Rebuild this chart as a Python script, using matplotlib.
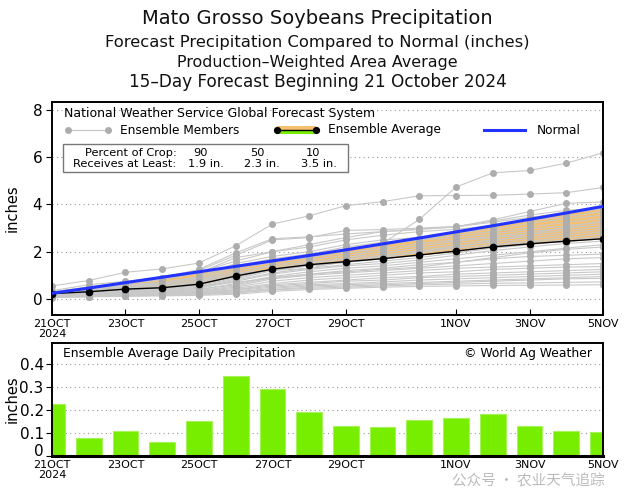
import numpy as np
import matplotlib
matplotlib.use("Agg")
import matplotlib.pyplot as plt
from matplotlib.lines import Line2D
from matplotlib.patches import Rectangle
from matplotlib.transforms import ScaledTranslation

# ---------------- data ----------------
days = list(range(16))
tick_days = [0, 2, 4, 6, 8, 11, 13, 15]
tick_labels = ["21OCT\n2024", "23OCT", "25OCT", "27OCT", "29OCT", "1NOV", "3NOV", "5NOV"]

daily_avg = [0.225, 0.08, 0.11, 0.06, 0.15, 0.345, 0.29, 0.19, 0.13, 0.125,
             0.155, 0.165, 0.18, 0.13, 0.11, 0.105]
ens_avg = np.cumsum(daily_avg)

normal = [0.24, 0.46, 0.69, 0.92, 1.15, 1.38, 1.61, 1.84, 2.08, 2.33,
          2.58, 2.84, 3.10, 3.37, 3.64, 3.92]

members = [
    [0.55, 0.78, 1.13, 1.27, 1.52, 2.25, 3.17, 3.52, 3.95, 4.12, 4.37, 4.38, 4.39, 4.44, 4.50, 4.72],
    [0.30, 0.45, 0.60, 0.70, 0.85, 1.10, 1.20, 1.30, 1.60, 2.35, 3.37, 4.74, 5.34, 5.44, 5.75, 6.19],
    [0.35, 0.60, 0.75, 0.90, 1.25, 1.95, 2.55, 2.63, 2.75, 2.85, 2.95, 3.05, 3.35, 3.70, 4.05, 4.11],
    [0.30, 0.50, 0.70, 0.85, 1.20, 1.85, 2.50, 2.60, 2.90, 2.94, 3.00, 3.07, 3.30, 3.55, 3.75, 3.85],
    [0.30, 0.45, 0.65, 0.80, 1.10, 1.75, 2.00, 2.20, 2.50, 2.70, 2.85, 2.95, 3.10, 3.30, 3.50, 3.70],
    [0.25, 0.40, 0.55, 0.70, 0.95, 1.50, 1.80, 2.00, 2.30, 2.50, 2.60, 2.80, 2.95, 3.20, 3.40, 3.55],
    [0.25, 0.40, 0.55, 0.65, 0.90, 1.40, 1.70, 1.90, 2.20, 2.40, 2.55, 2.70, 2.85, 3.05, 3.25, 3.40],
    [0.20, 0.35, 0.50, 0.60, 0.80, 1.35, 1.60, 1.80, 2.05, 2.30, 2.50, 2.60, 2.75, 2.95, 3.10, 3.25],
    [0.20, 0.30, 0.45, 0.55, 0.75, 1.25, 1.55, 1.75, 1.95, 2.15, 2.35, 2.50, 2.65, 2.85, 3.00, 3.15],
    [0.20, 0.30, 0.40, 0.50, 0.70, 1.15, 1.45, 1.65, 1.85, 2.05, 2.25, 2.45, 2.60, 2.75, 2.90, 3.05],
    [0.20, 0.30, 0.40, 0.50, 0.65, 1.05, 1.40, 1.55, 1.75, 1.95, 2.15, 2.35, 2.50, 2.65, 2.80, 2.95],
    [0.18, 0.25, 0.35, 0.45, 0.60, 0.95, 1.30, 1.50, 1.70, 1.85, 2.05, 2.25, 2.40, 2.55, 2.70, 2.85],
    [0.18, 0.25, 0.35, 0.40, 0.55, 0.90, 1.25, 1.45, 1.60, 1.80, 1.95, 2.15, 2.30, 2.45, 2.60, 2.75],
    [0.15, 0.22, 0.30, 0.38, 0.50, 0.85, 1.20, 1.40, 1.55, 1.70, 1.85, 2.05, 2.25, 2.40, 2.50, 2.65],
    [0.15, 0.20, 0.30, 0.35, 0.45, 0.80, 1.10, 1.30, 1.45, 1.60, 1.75, 1.95, 2.15, 2.30, 2.45, 2.60],
    [0.15, 0.20, 0.28, 0.35, 0.45, 0.75, 1.05, 1.25, 1.40, 1.50, 1.65, 1.85, 2.05, 2.20, 2.35, 2.45],
    [0.15, 0.20, 0.25, 0.30, 0.40, 0.65, 0.95, 1.15, 1.30, 1.40, 1.55, 1.70, 1.85, 2.00, 2.15, 2.30],
    [0.12, 0.18, 0.25, 0.30, 0.40, 0.60, 0.90, 1.05, 1.20, 1.30, 1.45, 1.55, 1.70, 1.80, 1.85, 1.90],
    [0.12, 0.18, 0.22, 0.28, 0.35, 0.55, 0.85, 1.00, 1.10, 1.20, 1.30, 1.40, 1.50, 1.60, 1.70, 1.75],
    [0.12, 0.15, 0.20, 0.25, 0.32, 0.50, 0.75, 0.90, 1.00, 1.10, 1.20, 1.30, 1.35, 1.40, 1.45, 1.50],
    [0.10, 0.15, 0.20, 0.25, 0.30, 0.45, 0.65, 0.80, 0.90, 1.00, 1.10, 1.15, 1.25, 1.30, 1.35, 1.37],
    [0.10, 0.14, 0.18, 0.22, 0.28, 0.40, 0.60, 0.70, 0.80, 0.90, 0.95, 1.05, 1.10, 1.15, 1.20, 1.25],
    [0.10, 0.13, 0.17, 0.20, 0.25, 0.38, 0.55, 0.65, 0.75, 0.80, 0.90, 0.95, 1.00, 1.05, 1.10, 1.15],
    [0.10, 0.12, 0.15, 0.18, 0.22, 0.35, 0.50, 0.60, 0.65, 0.72, 0.80, 0.85, 0.90, 0.95, 1.00, 1.05],
    [0.08, 0.12, 0.15, 0.18, 0.22, 0.30, 0.45, 0.55, 0.60, 0.65, 0.70, 0.75, 0.80, 0.85, 0.90, 0.95],
    [0.08, 0.10, 0.14, 0.17, 0.20, 0.28, 0.40, 0.50, 0.55, 0.60, 0.65, 0.70, 0.75, 0.80, 0.85, 0.87],
    [0.08, 0.10, 0.13, 0.15, 0.18, 0.25, 0.38, 0.45, 0.50, 0.55, 0.60, 0.63, 0.66, 0.68, 0.70, 0.72],
    [0.06, 0.09, 0.11, 0.13, 0.15, 0.20, 0.32, 0.40, 0.45, 0.50, 0.53, 0.55, 0.57, 0.58, 0.59, 0.60],
    [0.30, 0.50, 0.70, 0.90, 1.15, 1.60, 2.00, 2.30, 2.60, 2.85, 2.95, 3.05, 3.25, 3.45, 3.65, 3.80],
    [0.25, 0.40, 0.50, 0.60, 0.75, 1.00, 1.25, 1.40, 1.55, 1.75, 2.00, 2.20, 2.45, 2.75, 3.05, 3.30],
    [0.20, 0.30, 0.40, 0.45, 0.55, 0.70, 0.90, 1.05, 1.15, 1.25, 1.35, 1.55, 1.75, 1.95, 2.10, 2.20],
]

crop_pct = ["90", "50", "10"]
crop_amt = ["1.9 in.", "2.3 in.", "3.5 in."]

title_lines = ["Mato Grosso Soybeans Precipitation",
               "Forecast Precipitation Compared to Normal (inches)",
               "Production\u2013Weighted Area Average",
               "15\u2013Day Forecast Beginning 21 October 2024"]

# ---------------- figure ----------------
W, H = 635, 493
fig = plt.figure(figsize=(W / 100, H / 100), dpi=100)
plt.rcParams['font.family'] = ['DejaVu Sans']


def fx(px):
    return px / W


def fy(py):
    return 1 - py / H


L, R = 52, 603
ax = fig.add_axes([fx(L), fy(315), fx(R - L), fy(102) - fy(315)])
ax2 = fig.add_axes([fx(L), fy(456), fx(R - L), fy(343) - fy(456)])

# titles
tsize = [14, 11.8, 11.4, 12.2]
tys = [18, 43, 63, 82]
for t, s, yy in zip(title_lines, tsize, tys):
    fig.text(0.5, fy(yy), t, ha='center', va='center', fontsize=s, color='#111111')

# top panel
ax.set_xlim(0, 15)
ax.set_ylim(-0.68, 8.34)
for g in [0, 2, 4, 6, 8]:
    ax.axhline(g, color='#999999', lw=0.8, ls=(0, (1, 3)), zorder=0.5)

ax.fill_between(days, ens_avg, normal, where=np.array(normal) >= ens_avg,
                color='#F5C070', lw=0, zorder=1, interpolate=True)
ax.fill_between(days, ens_avg, normal, where=np.array(normal) < ens_avg,
                color='#77EE00', lw=0, zorder=1, interpolate=True)
for m in members:
    ax.plot(days, m, color='#C8C8C8', lw=0.8, marker='o', ms=4.0,
            mfc='#ADADAD', mec='#ADADAD', zorder=2)
ax.plot(days, ens_avg, color='black', lw=1.0, marker='o', ms=4.5, zorder=4)
ax.plot(days, normal, color='#2233FF', lw=2.2, zorder=5)

ax.set_yticks([0, 2, 4, 6, 8])
ax.set_yticklabels(['0', '2', '4', '6', '8'], fontsize=11)
ax.set_xticks(tick_days)
ax.set_xticklabels(tick_labels, fontsize=8, linespacing=0.95)
ax.tick_params(axis='x', direction='in', length=4, pad=3)
ax.tick_params(axis='y', direction='out', length=4, pad=3)
for sp in ax.spines.values():
    sp.set_linewidth(1.4)
ax.set_ylabel('inches', fontsize=10.5)
ax.yaxis.set_label_coords(-0.058, 0.5)

# legend inside top panel
def axx(px):
    return (px - L) / (R - L)


def axy(py):
    return (315 - py) / (315 - 102)


tr = ax.transAxes
ax.text(axx(64), axy(114), "National Weather Service Global Forecast System",
        transform=tr, fontsize=9.0, va='center', ha='left', zorder=10)
ax.add_line(Line2D([axx(68), axx(108)], [axy(130), axy(130)], transform=tr,
                   color='#C8C8C8', lw=0.9, marker='o', ms=4.0, mfc='#ADADAD',
                   mec='#ADADAD', zorder=10))
ax.text(axx(120), axy(130), "Ensemble Members", transform=tr, fontsize=8.7,
        va='center', ha='left', zorder=10)
ax.add_patch(Rectangle((axx(277), axy(130)), axx(316) - axx(277), axy(126) - axy(130),
                       transform=tr, color='#F5C070', lw=0, zorder=10))
ax.add_patch(Rectangle((axx(277), axy(134)), axx(316) - axx(277), axy(130) - axy(134),
                       transform=tr, color='#77EE00', lw=0, zorder=10))
ax.add_line(Line2D([axx(277), axx(316)], [axy(130), axy(130)], transform=tr,
                   color='black', lw=1.0, marker='o', ms=4.2, zorder=11))
ax.text(axx(328), axy(130), "Ensemble Average", transform=tr, fontsize=8.7,
        va='center', ha='left', zorder=10)
ax.add_line(Line2D([axx(484), axx(525)], [axy(130), axy(130)], transform=tr,
                   color='#2233FF', lw=2.2, zorder=10))
ax.text(axx(537), axy(130), "Normal", transform=tr, fontsize=8.7,
        va='center', ha='left', zorder=10)

ax.add_patch(Rectangle((axx(63), axy(172)), axx(348) - axx(63), axy(144) - axy(172),
                       transform=tr, facecolor='white', edgecolor='#777777',
                       lw=1.0, zorder=9))
bfs = 8.2
ax.text(axx(177), axy(152.5), "Percent of Crop:", transform=tr, fontsize=bfs,
        va='center', ha='right', zorder=10)
ax.text(axx(176), axy(164), "Receives at Least:", transform=tr, fontsize=bfs,
        va='center', ha='right', zorder=10)
for p, a, c1, c2 in zip(crop_pct, crop_amt, [200, 257, 313], [206, 262, 319]):
    ax.text(axx(c1), axy(152.5), p, transform=tr, fontsize=bfs, va='center',
            ha='center', zorder=10)
    ax.text(axx(c2), axy(164), a, transform=tr, fontsize=bfs, va='center',
            ha='center', zorder=10)

# bottom panel
ax2.set_xlim(0, 15)
ax2.set_ylim(0, 0.49)
for g in [0.1, 0.2, 0.3, 0.4]:
    ax2.axhline(g, color='#999999', lw=0.8, ls=(0, (1, 3)), zorder=0.5)
ax2.bar(days, daily_avg, width=0.7, color='#77EE00', edgecolor='#A6F25A',
        lw=0.8, zorder=2)
ax2.set_yticks([0, 0.1, 0.2, 0.3, 0.4])
ax2.set_yticklabels(['0', '0.1', '0.2', '0.3', '0.4'], fontsize=11)
ax2.set_xticks(tick_days)
ax2.set_xticklabels(tick_labels, fontsize=8, linespacing=0.95)
ax2.tick_params(axis='x', direction='in', length=4, pad=3)
ax2.tick_params(axis='y', direction='out', length=4, pad=2)
for sp in ax2.spines.values():
    sp.set_linewidth(1.4)
ax2.spines['bottom'].set_linewidth(2.2)
ax2.set_ylabel('inches', fontsize=10.5)
ax2.yaxis.set_label_coords(-0.058, 0.5)
# keep the "0" label just clear of the first date label
zero_lab = ax2.get_yticklabels()[0]
zero_lab.set_va('bottom')
zero_lab.set_transform(zero_lab.get_transform() +
                       ScaledTranslation(0, -3 / 100, fig.dpi_scale_trans))


def bx(py):
    return (456 - py) / (456 - 343)


ax2.text(axx(63), bx(354), "Ensemble Average Daily Precipitation",
         transform=ax2.transAxes, fontsize=8.9, va='center', ha='left')
ax2.text(axx(592), bx(353), "\u00a9 World Ag Weather",
         transform=ax2.transAxes, fontsize=8.9, va='center', ha='right')

# watermark (semi-transparent overlay), kept just below the tick labels
fig.text(fx(452), fy(481), "\u516c\u4f17\u53f7 \u00b7 \u519c\u4e1a\u5929\u6c14\u8ffd\u8e2a",
         fontsize=10.5, color='#777777', alpha=0.5, ha='left', va='center',
         family=['Noto Sans CJK SC', 'DejaVu Sans'])

fig.savefig("out.png", dpi=100)
